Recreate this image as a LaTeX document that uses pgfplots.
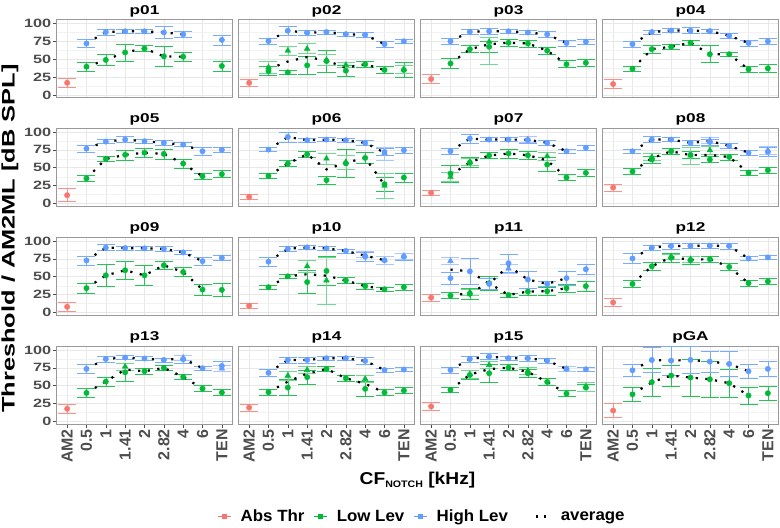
\documentclass[border=0pt]{standalone}
\usepackage{pgfplots}
\pgfplotsset{compat=1.18}
\usepackage{fontspec}
\setmainfont{Liberation Sans}
\newfontfamily\ytickfont{Liberation Sans}[FakeStretch=1.35]
\newfontfamily\stripfont{Liberation Sans}[FakeStretch=1.35]
\newfontfamily\ytitlefont{Liberation Sans}[FakeStretch=1.4]
\newfontfamily\legfont{Liberation Sans}[FakeStretch=1.04]
\newfontfamily\xtitlefont{Liberation Sans}[FakeStretch=1.12]
\newcommand{\ptitle}[1]{{\stripfont\bfseries\fontsize{12.8}{13}\selectfont #1}}
\definecolor{absc}{HTML}{F8766D}
\definecolor{lowc}{HTML}{00BA38}
\definecolor{highc}{HTML}{619CFF}
\definecolor{tickc}{HTML}{4D4D4D}
\pgfplotsset{
 every axis title/.style={at={(0.5,1)}, anchor=base, yshift=5.3bp, inner sep=0pt},
 panel/.style={scale only axis, width=176bp, height=78bp, anchor=south west,
  xmin=0.45, xmax=9.55, ymin=-3.5, ymax=105.5,
  xtick={1,...,9}, ytick={0,25,50,75,100}, minor ytick={12.5,37.5,62.5,87.5},
  xticklabels={}, yticklabels={},
  grid=both, major grid style={draw=black!9, line width=0.55bp},
  minor grid style={draw=black!5, line width=0.3bp},
  axis line style={draw=black!40, line width=0.6bp},
  tick align=outside, major tick length=3.5bp, minor tick length=0pt,
  tick pos=left, xtick style={draw=none}, ytick style={draw=none},
 },
 leftcol/.style={yticklabels={0,25,50,75,100}, ytick style={draw=tickc, line width=0.5bp},
  yticklabel style={font=\ytickfont\bfseries\fontsize{12.1}{13}\selectfont, text=tickc, inner xsep=1.5bp}},
 botrow/.style={xticklabels={AM2,0.5,1,1.41,2,2.82,4,6,TEN}, xtick style={draw=tickc, line width=0.5bp},
  xticklabel style={rotate=90, anchor=east, font=\bfseries\fontsize{16}{17}\selectfont, text=tickc, inner xsep=1.5bp}},
 errb/.style={error bars/.cd, y dir=both, y explicit, error mark=|, error bar style={line width=0.6bp, #1}, error mark options={line width=0.6bp, #1, mark size=9bp}},
 abspt/.style={only marks, mark=*, color=absc, mark size=2.7bp, errb={absc!80!white}},
 lowpt/.style={only marks, mark=*, color=lowc, mark size=2.7bp, errb={lowc!85!white}},
 lowtri/.style={only marks, mark=triangle*, color=lowc, mark size=3.3bp, errb={lowc!55!white}},
 highpt/.style={only marks, mark=*, color=highc, mark size=2.7bp, errb={highc!85!white}},
 hightri/.style={only marks, mark=triangle*, color=highc, mark size=3.3bp, errb={highc!55!white}},
 avg/.style={black, line width=2.2bp, dash pattern=on 2.2bp off 7.5bp, no markers},
}
\begin{document}
\begin{tikzpicture}
\useasboundingbox (0,0) rectangle (780bp,528bp);
% ---------------- row 1 ----------------
\begin{axis}[panel, leftcol, at={(56.5bp,430.5bp)}, title={\ptitle{p01}}]
\addplot[abspt] coordinates {(1,17) +- (0,6.5)};
\addplot[lowpt] coordinates {(2,39.5) +- (0,6) (3,49) +- (0,8) (4,59.5) +- (0,12) (5,65) +- (0,4) (6,54) +- (0,14) (7,53.5) +- (0,6) (9,40.5) +- (0,7)};
\addplot[highpt] coordinates {(2,72) +- (0,6) (3,88) +- (0,4) (4,89) +- (0,3) (5,89) +- (0,3) (6,87.4) +- (0,8) (7,84.7) +- (0,4) (9,77) +- (0,7)};
\addplot[avg] coordinates {(2,39.5) (3,49) (4,59.5) (5,65) (6,54) (7,53.5)};
\addplot[avg] coordinates {(2,72) (3,88) (4,89) (5,89) (6,87.4) (7,84.7)};
\end{axis}
\begin{axis}[panel, at={(238.5bp,430.5bp)}, title={\ptitle{p02}}]
\addplot[abspt] coordinates {(1,17) +- (0,5)};
\addplot[lowpt] coordinates {(2,33.5) +- (0,6) (3,31.6) +- (0,3) (4,41.4) +- (0,12) (5,47.4) +- (0,15) (6,34) +- (0,8) (7,43) +- (0,4) (8,35) +- (0,5) (9,35) +- (0,10)};
\addplot[lowtri] coordinates {(2,38.6) +- (0,8) (3,62) +- (0,6) (4,64.6) +- (0,7) (5,49) +- (0,8) (6,42) +- (0,4) (9,36) +- (0,6)};
\addplot[highpt] coordinates {(2,75.3) +- (0,4) (3,89.8) +- (0,6) (4,87) +- (0,3) (5,88) +- (0,3) (6,85) +- (0,3) (7,84) +- (0,3) (8,71) +- (0,4) (9,75) +- (0,3)};
\addplot[avg] coordinates {(2,36) (3,46.8) (4,53) (5,48.2) (6,38) (7,43) (8,35)};
\addplot[avg] coordinates {(2,75.3) (3,89.8) (4,87) (5,88) (6,85) (7,84) (8,71)};
\end{axis}
\begin{axis}[panel, at={(420.5bp,430.5bp)}, title={\ptitle{p03}}]
\addplot[abspt] coordinates {(1,22.3) +- (0,6)};
\addplot[lowpt] coordinates {(2,44) +- (0,7) (3,64) +- (0,5) (4,67.4) +- (0,8) (5,73) +- (0,5) (6,72) +- (0,5) (7,62) +- (0,5) (8,43) +- (0,5) (9,45) +- (0,5)};
\addplot[lowtri] coordinates {(4,74.4) += (0,6) -= (0,32)};
\addplot[highpt] coordinates {(2,75) +- (0,4) (3,88.4) +- (0,4) (4,89) +- (0,4) (5,89) +- (0,3) (6,87.4) +- (0,3) (7,84.7) +- (0,4) (8,72.6) +- (0,4) (9,74.4) +- (0,3)};
\addplot[avg] coordinates {(2,44) (3,64) (4,70.9) (5,73) (6,72) (7,62) (8,43)};
\addplot[avg] coordinates {(2,75) (3,88.4) (4,89) (5,89) (6,87.4) (7,84.7) (8,72.6)};
\end{axis}
\begin{axis}[panel, at={(602.5bp,430.5bp)}, title={\ptitle{p04}}]
\addplot[abspt] coordinates {(1,15.3) +- (0,6)};
\addplot[lowpt] coordinates {(2,36.7) +- (0,3) (3,64) +- (0,6) (4,67.4) +- (0,3) (5,73) +- (0,4) (6,57) +- (0,12) (7,57) +- (0,3) (8,35.8) +- (0,4) (9,37.2) +- (0,6)};
\addplot[highpt] coordinates {(2,71) +- (0,4) (3,88) +- (0,3) (4,90) +- (0,3) (5,90) +- (0,4) (6,89.3) +- (0,3) (7,82.8) +- (0,3) (8,72.6) +- (0,4) (9,75) +- (0,4)};
\addplot[avg] coordinates {(2,36.7) (3,64) (4,67.4) (5,73) (6,57) (7,57) (8,35.8)};
\addplot[avg] coordinates {(2,71) (3,88) (4,90) (5,90) (6,89.3) (7,82.8) (8,72.6)};
\end{axis}
% ---------------- row 2 ----------------
\begin{axis}[panel, leftcol, at={(56.5bp,322bp)}, title={\ptitle{p05}}]
\addplot[abspt] coordinates {(1,11.6) +- (0,9)};
\addplot[lowpt] coordinates {(2,35) +- (0,4) (3,62.3) +- (0,4) (4,68) +- (0,7) (5,71) +- (0,6) (6,69.3) +- (0,7) (7,55.8) +- (0,6) (8,38) +- (0,4) (9,41) +- (0,5)};
\addplot[highpt] coordinates {(2,76.7) +- (0,5) (3,86.5) +- (0,3) (4,89.3) +- (0,4) (5,87) +- (0,3) (6,84.7) +- (0,3) (7,82.3) +- (0,3) (8,73) +- (0,5) (9,75) +- (0,3)};
\addplot[avg] coordinates {(2,35) (3,62.3) (4,68) (5,71) (6,69.3) (7,55.8) (8,38)};
\addplot[avg] coordinates {(2,76.7) (3,86.5) (4,89.3) (5,87) (6,84.7) (7,82.3) (8,73)};
\end{axis}
\begin{axis}[panel, at={(238.5bp,322bp)}, title={\ptitle{p06}}]
\addplot[abspt] coordinates {(1,9.3) +- (0,4)};
\addplot[lowpt] coordinates {(2,38.6) +- (0,3) (3,55.8) +- (0,4) (4,68.8) +- (0,4) (5,32.6) +- (0,6) (6,56) +- (0,20) (7,63.7) +- (0,8) (8,27) +- (0,10) (9,36.3) +- (0,6)};
\addplot[lowtri] coordinates {(5,62.8) +- (0,8) (6,58) +- (0,10) (8,24.7) +- (0,18)};
\addplot[highpt] coordinates {(2,75.3) +- (0,3) (3,93) +- (0,7) (4,88.4) +- (0,3) (5,89.3) +- (0,3) (6,88.4) +- (0,3) (7,84.7) +- (0,3) (8,72) +- (0,5) (9,74.4) +- (0,4)};
\addplot[hightri] coordinates {(8,70) +- (0,9)};
\addplot[avg] coordinates {(2,38.6) (3,55.8) (4,68.8) (5,47.7) (6,57) (7,63.7) (8,25.9)};
\addplot[avg] coordinates {(2,75.3) (3,93) (4,88.4) (5,89.3) (6,88.4) (7,84.7) (8,71)};
\end{axis}
\begin{axis}[panel, at={(420.5bp,322bp)}, title={\ptitle{p07}}]
\addplot[abspt] coordinates {(1,15) +- (0,3)};
\addplot[lowpt] coordinates {(2,41.9) +- (0,12) (3,57.2) +- (0,7) (4,67) +- (0,4) (5,69.8) +- (0,6) (6,67.4) +- (0,5) (7,54.4) +- (0,10) (8,36.3) +- (0,4) (9,42.8) +- (0,5)};
\addplot[lowtri] coordinates {(2,37.2) +- (0,6) (3,58) +- (0,5) (7,66) +- (0,5)};
\addplot[highpt] coordinates {(2,73) +- (0,4) (3,90.7) +- (0,6) (4,89.3) +- (0,3) (5,89.3) +- (0,3) (6,88.8) +- (0,5) (7,84.7) +- (0,3) (8,73) +- (0,3) (9,78) +- (0,4)};
\addplot[hightri] coordinates {(6,89.5) +- (0,4)};
\addplot[avg] coordinates {(2,39.5) (3,57.6) (4,67) (5,69.8) (6,67.4) (7,60.2) (8,36.3)};
\addplot[avg] coordinates {(2,73) (3,90.7) (4,89.3) (5,89.3) (6,89.1) (7,84.7) (8,73)};
\end{axis}
\begin{axis}[panel, at={(602.5bp,322bp)}, title={\ptitle{p08}}]
\addplot[abspt] coordinates {(1,22.3) +- (0,5)};
\addplot[lowpt] coordinates {(2,44.7) +- (0,4) (3,61.4) +- (0,5) (4,73) +- (0,4) (5,68) +- (0,5) (6,61.4) +- (0,4) (7,65) +- (0,4) (8,43) +- (0,4) (9,46.5) +- (0,4)};
\addplot[lowtri] coordinates {(3,65) +- (0,5) (5,67) +- (0,12) (6,74.4) +- (0,6)};
\addplot[highpt] coordinates {(2,73) +- (0,3) (3,89.3) +- (0,4) (4,89.3) +- (0,3) (5,84.7) +- (0,3) (6,86) +- (0,4) (7,80.5) +- (0,4) (8,71) +- (0,4) (9,72.1) +- (0,6)};
\addplot[hightri] coordinates {(6,88.4) +- (0,4) (9,74.4) +- (0,6)};
\addplot[avg] coordinates {(2,44.7) (3,63.2) (4,73) (5,67.5) (6,67.9) (7,65) (8,43)};
\addplot[avg] coordinates {(2,73) (3,89.3) (4,89.3) (5,84.7) (6,87.2) (7,80.5) (8,71)};
\end{axis}
% ---------------- row 3 ----------------
\begin{axis}[panel, leftcol, at={(56.5bp,213bp)}, title={\ptitle{p09}}]
\addplot[abspt] coordinates {(1,8) +- (0,6)};
\addplot[lowpt] coordinates {(2,34) +- (0,7) (3,51.9) +- (0,15) (4,59) +- (0,12) (5,51.9) +- (0,14) (6,66) +- (0,6) (7,56.6) +- (0,6) (8,32) +- (0,8) (9,31.6) +- (0,9)};
\addplot[highpt] coordinates {(2,72.6) +- (0,6) (3,90.6) +- (0,4) (4,90) +- (0,3) (5,89.6) +- (0,3) (6,89) +- (0,3) (7,84) +- (0,3) (8,71.7) +- (0,6) (9,76.4) +- (0,4)};
\addplot[avg] coordinates {(2,34) (3,51.9) (4,59) (5,51.9) (6,66) (7,56.6) (8,32)};
\addplot[avg] coordinates {(2,72.6) (3,90.6) (4,90) (5,89.6) (6,89) (7,84) (8,71.7)};
\end{axis}
\begin{axis}[panel, at={(238.5bp,213bp)}, title={\ptitle{p10}}]
\addplot[abspt] coordinates {(1,9.4) +- (0,3)};
\addplot[lowpt] coordinates {(2,35.4) +- (0,3) (3,50.5) +- (0,3) (4,42.5) +- (0,16) (5,58) +- (0,20) (6,44.8) +- (0,4) (7,36.8) +- (0,4) (8,32.5) +- (0,3) (9,35.4) +- (0,4)};
\addplot[lowtri] coordinates {(4,64.6) +- (0,8) (5,44.8) +- (0,33)};
\addplot[highpt] coordinates {(2,71) +- (0,6) (3,89) +- (0,4) (4,91) +- (0,3) (5,89.6) +- (0,3) (6,86) +- (0,3) (7,78) +- (0,6) (8,73) +- (0,5) (9,78) +- (0,5)};
\addplot[hightri] coordinates {(7,81) +- (0,4) (8,73) +- (0,5) (9,79) +- (0,4)};
\addplot[avg] coordinates {(2,35.4) (3,50.5) (4,53.5) (5,51.4) (6,44.8) (7,36.8) (8,32.5)};
\addplot[avg] coordinates {(2,71) (3,89) (4,91) (5,89.6) (6,86) (7,79.5) (8,73)};
\end{axis}
\begin{axis}[panel, at={(420.5bp,213bp)}, title={\ptitle{p11}}]
\addplot[abspt] coordinates {(1,20.8) +- (0,5)};
\addplot[lowpt] coordinates {(2,23.6) +- (0,4) (3,26) +- (0,8) (4,41) +- (0,10) (5,24.5) +- (0,3) (6,29.2) +- (0,5) (7,29.7) +- (0,5) (8,34) +- (0,6) (9,36.8) +- (0,7)};
\addplot[lowtri] coordinates {(3,28.3) +- (0,4)};
\addplot[highpt] coordinates {(2,48) +- (0,8) (3,57.5) +- (0,18) (4,40) +- (0,8) (5,68.9) +- (0,13) (6,46) +- (0,12) (7,40) +- (0,4) (8,48) +- (0,10) (9,60.4) +- (0,7)};
\addplot[hightri] coordinates {(2,72) +- (0,5) (5,61.3) +- (0,6)};
\addplot[avg] coordinates {(2,23.6) (3,27.2) (4,41) (5,24.5) (6,29.2) (7,29.7) (8,34)};
\addplot[avg] coordinates {(2,60) (3,57.5) (4,40) (5,65.1) (6,46) (7,40) (8,48)};
\end{axis}
\begin{axis}[panel, at={(602.5bp,213bp)}, title={\ptitle{p12}}]
\addplot[abspt] coordinates {(1,14) +- (0,6)};
\addplot[lowpt] coordinates {(2,40) +- (0,5) (3,64.6) +- (0,6) (4,76.4) +- (0,6) (5,73) +- (0,6) (6,74.5) +- (0,4) (7,63.7) +- (0,5) (8,41) +- (0,4) (9,43.4) +- (0,4)};
\addplot[lowtri] coordinates {(4,78) +- (0,4) (5,74.5) +- (0,4)};
\addplot[highpt] coordinates {(2,75.5) +- (0,7) (3,90.6) +- (0,3) (4,93) +- (0,4) (5,93) +- (0,3) (6,93.4) +- (0,3) (7,93) +- (0,4) (8,75.5) +- (0,3) (9,77) +- (0,3)};
\addplot[avg] coordinates {(2,40) (3,64.6) (4,77.2) (5,73.8) (6,74.5) (7,63.7) (8,41)};
\addplot[avg] coordinates {(2,75.5) (3,90.6) (4,93) (5,93) (6,93.4) (7,93) (8,75.5)};
\end{axis}
% ---------------- row 4 ----------------
\begin{axis}[panel, leftcol, botrow, at={(56.5bp,104bp)}, title={\ptitle{p13}}]
\addplot[abspt] coordinates {(1,17.7) +- (0,6)};
\addplot[lowpt] coordinates {(2,40) +- (0,6) (3,55.8) +- (0,6) (4,68.8) +- (0,12) (5,70.2) +- (0,4) (6,74.9) +- (0,4) (7,62.3) +- (0,3) (8,46) +- (0,4) (9,40.5) +- (0,4)};
\addplot[lowtri] coordinates {(4,76.7) +- (0,5)};
\addplot[highpt] coordinates {(2,73.5) +- (0,6) (3,87.4) +- (0,4) (4,89.3) +- (0,3) (5,88) +- (0,3) (6,86) +- (0,3) (7,87) +- (0,5) (8,74.4) +- (0,3) (9,77.7) +- (0,7)};
\addplot[hightri] coordinates {(7,89) +- (0,4) (9,74) +- (0,4)};
\addplot[avg] coordinates {(2,40) (3,55.8) (4,72.7) (5,70.2) (6,74.9) (7,62.3) (8,46)};
\addplot[avg] coordinates {(2,73.5) (3,87.4) (4,89.3) (5,88) (6,86) (7,88) (8,74.4)};
\end{axis}
\begin{axis}[panel, botrow, at={(238.5bp,104bp)}, title={\ptitle{p14}},
  legend columns=4,
  legend style={at={(axis description cs:1.037,-1.185)}, anchor=center, draw=none, fill=none,
    font=\legfont\bfseries\fontsize{16.3}{17}\selectfont, inner sep=0pt,
    nodes={inner sep=0pt},
    /tikz/every odd column/.append style={column sep=9.5bp},
    /tikz/every even column/.append style={column sep=9bp}},
  legend image code/.code={\draw[mark repeat=2,mark phase=2,#1] plot coordinates {(0bp,0bp) (6.5bp,0bp) (13bp,0bp)};}]
\addlegendimage{absc, line width=0.8bp, mark=square*, mark size=2.3bp}
\addlegendentry{Abs Thr}
\addlegendimage{lowc, line width=0.8bp, mark=square*, mark size=2.3bp}
\addlegendentry{Low Lev}
\addlegendimage{highc, line width=0.8bp, mark=square*, mark size=2.3bp}
\addlegendentry{High Lev}
\addlegendimage{legend image code/.code={\path (0bp,0bp); \draw[black, line width=2.2bp, dash pattern=on 2.2bp off 5.5bp] (19bp,0bp) -- (33bp,0bp);}}
\addlegendentry{average}
\addplot[abspt] coordinates {(1,19.5) +- (0,5)};
\addplot[lowpt] coordinates {(2,41) +- (0,4) (3,47.4) +- (0,11) (4,62) +- (0,10) (5,73.5) +- (0,4) (6,60.5) +- (0,4) (7,45.6) +- (0,10) (8,40.5) +- (0,4) (9,43.3) +- (0,4)};
\addplot[lowtri] coordinates {(3,64) +- (0,6) (4,72) +- (0,5) (7,59.5) +- (0,5)};
\addplot[highpt] coordinates {(2,68) +- (0,5) (3,86) +- (0,4) (4,86) +- (0,4) (5,88.4) +- (0,3) (6,88.4) +- (0,3) (7,84.7) +- (0,5) (8,72) +- (0,3) (9,72.6) +- (0,3)};
\addplot[avg] coordinates {(2,41) (3,55.7) (4,67) (5,73.5) (6,60.5) (7,52.6) (8,40.5)};
\addplot[avg] coordinates {(2,68) (3,86) (4,86) (5,88.4) (6,88.4) (7,84.7) (8,72)};
\end{axis}
\begin{axis}[panel, botrow, at={(420.5bp,104bp)}, title={\ptitle{p15}}]
\addplot[abspt] coordinates {(1,21) +- (0,6)};
\addplot[lowpt] coordinates {(2,44.2) +- (0,4) (3,65) +- (0,6) (4,67.4) +- (0,12) (5,75.3) +- (0,4) (6,67.4) +- (0,6) (7,55.3) +- (0,5) (8,39) +- (0,4) (9,47.4) +- (0,5)};
\addplot[lowtri] coordinates {(3,66) +- (0,5) (4,79) +- (0,5) (6,71) +- (0,5) (9,48.8) +- (0,6)};
\addplot[highpt] coordinates {(2,72) +- (0,4) (3,87.4) +- (0,4) (4,90.7) +- (0,4) (5,88.4) +- (0,3) (6,88.4) +- (0,4) (7,85) +- (0,3) (8,73.5) +- (0,4) (9,73) +- (0,3)};
\addplot[hightri] coordinates {(8,73.5) +- (0,4)};
\addplot[avg] coordinates {(2,44.2) (3,65.5) (4,73.2) (5,75.3) (6,69.2) (7,55.3) (8,39)};
\addplot[avg] coordinates {(2,72) (3,87.4) (4,90.7) (5,88.4) (6,88.4) (7,85) (8,73.5)};
\end{axis}
\begin{axis}[panel, botrow, at={(602.5bp,104bp)}, title={\ptitle{pGA}}]
\addplot[abspt] coordinates {(1,15.3) +- (0,10)};
\addplot[lowpt] coordinates {(2,38) +- (0,10) (3,55) +- (0,20) (4,64.2) +- (0,15) (5,61.4) +- (0,26) (6,59) +- (0,25) (7,53.5) +- (0,20) (8,36.3) +- (0,12) (9,39.5) +- (0,10)};
\addplot[highpt] coordinates {(2,71.6) +- (0,9) (3,86) +- (0,17) (4,85) +- (0,20) (5,86) +- (0,19) (6,83.7) +- (0,15) (7,80.5) +- (0,18) (8,70.2) +- (0,10) (9,73.5) +- (0,10)};
\addplot[avg] coordinates {(2,38) (3,55) (4,64.2) (5,61.4) (6,59) (7,53.5) (8,36.3)};
\addplot[avg] coordinates {(2,71.6) (3,86) (4,85) (5,86) (6,83.7) (7,80.5) (8,70.2)};
\end{axis}
% titles
\node[rotate=90, anchor=center, inner sep=0pt, font=\ytitlefont\bfseries\fontsize{18.2}{19}\selectfont] at (10bp,289.5bp) {Threshold / AM2ML [dB SPL]};
\node[anchor=base, inner sep=0pt, font=\xtitlefont\bfseries\fontsize{17.2}{18}\selectfont] at (417.5bp,43bp) {CF\raisebox{-2.8bp}{\fontsize{9.5}{10}\selectfont NOTCH} [kHz]};
\end{tikzpicture}
\end{document}
